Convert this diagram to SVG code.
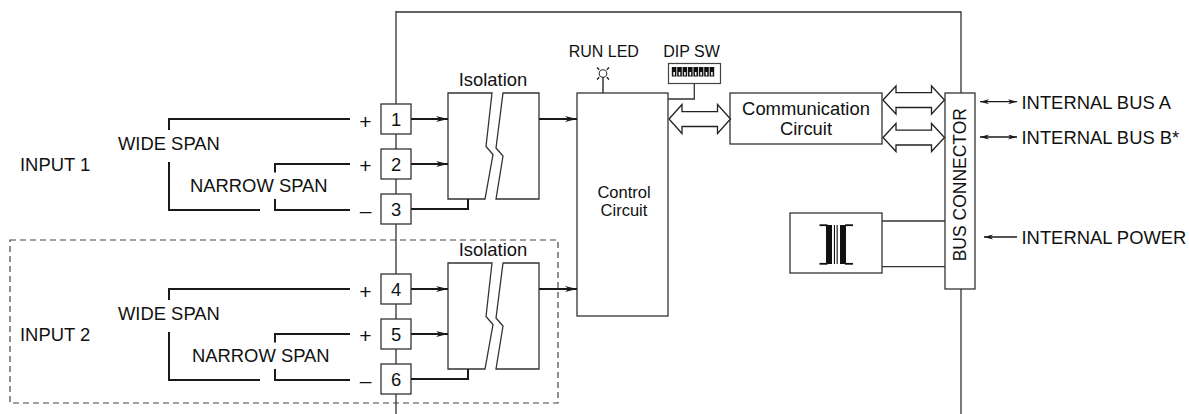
<svg xmlns="http://www.w3.org/2000/svg" width="1189" height="414" viewBox="0 0 1189 414">
<defs>
<style>
text{font-family:"Liberation Sans",Arial,Helvetica,sans-serif;fill:#111;}
.t18{font-size:18.4px;}
.t16{font-size:16px;}
.pm{font-size:21px;}
.mid{text-anchor:middle;}
.ln{fill:none;stroke:#333;stroke-width:1.3;}
.wr{fill:none;stroke:#1a1a1a;stroke-width:2;}
.bx{fill:#fff;stroke:#333;stroke-width:1.3;}
.ar{fill:none;stroke:#1a1a1a;stroke-width:1.8;marker-end:url(#ah);}
.hol{fill:#fff;stroke:#222;stroke-width:1.3;stroke-linejoin:miter;}
.sm{fill:none;stroke:#1a1a1a;stroke-width:1.3;}
</style>
<marker id="ah" markerUnits="userSpaceOnUse" markerWidth="13" markerHeight="7" refX="12" refY="3" orient="auto">
<path d="M0,0 L12,3 L0,6 L3.5,3 Z" fill="#1a1a1a"/>
</marker>
<marker id="sh" markerUnits="userSpaceOnUse" markerWidth="10" markerHeight="6" refX="9" refY="2.5" orient="auto-start-reverse">
<path d="M0,0 L9,2.5 L0,5 L2.5,2.5 Z" fill="#1a1a1a"/>
</marker>
</defs>
<rect width="1189" height="414" fill="#fff"/>

<g id="housing">
<path class="ln" d="M396,11 V414 M396,12 H961 V93 M961,289 V414"/>
<rect x="10" y="240" width="548" height="163" fill="none" stroke="#444" stroke-width="1.2" stroke-dasharray="6,4"/>
</g>

<g id="input1">
<text class="t18" x="20" y="170.7">INPUT 1</text>
<text class="t18" x="118" y="150">WIDE SPAN</text>
<text class="t18" x="190" y="192">NARROW SPAN</text>
<path class="wr" d="M169,130 V119 H350 M169,162 V210 H260 M275,172.5 V164 H350 M275,199 V210 H350"/>
<text class="pm mid" x="365.5" y="129">+</text>
<text class="pm mid" x="365.5" y="173">+</text>
<text class="pm mid" x="365.5" y="218">–</text>
</g>

<g id="input2">
<text class="t18" x="20" y="340.7">INPUT 2</text>
<text class="t18" x="118" y="320">WIDE SPAN</text>
<text class="t18" x="192" y="362">NARROW SPAN</text>
<path class="wr" d="M169,300 V289 H350 M169,332 V380 H260 M275,342.5 V334 H350 M275,369 V380 H350"/>
<text class="pm mid" x="365.5" y="299">+</text>
<text class="pm mid" x="365.5" y="343">+</text>
<text class="pm mid" x="365.5" y="388">–</text>
</g>

<g id="terminals">
<rect class="bx" x="381" y="104" width="30" height="30"/><text class="t18 mid" x="396" y="125.5">1</text>
<rect class="bx" x="381" y="149" width="30" height="30"/><text class="t18 mid" x="396" y="170.5">2</text>
<rect class="bx" x="381" y="194" width="30" height="30"/><text class="t18 mid" x="396" y="215.5">3</text>
<rect class="bx" x="381" y="274" width="30" height="30"/><text class="t18 mid" x="396" y="295.5">4</text>
<rect class="bx" x="381" y="319" width="30" height="30"/><text class="t18 mid" x="396" y="340.5">5</text>
<rect class="bx" x="381" y="364" width="30" height="30"/><text class="t18 mid" x="396" y="385.5">6</text>
</g>

<g id="isolation1">
<text class="t18 mid" x="493" y="86">Isolation</text>
<path class="bx" d="M448,93 H492 L486,146.5 L493,154.5 L485,199 H448 Z"/>
<path class="bx" d="M503,93 H539 V199 H496 L503,156 L496,148 Z"/>
</g>

<g id="isolation2">
<text class="t18 mid" x="493" y="256">Isolation</text>
<path class="bx" d="M448,263 H492 L486,316.5 L493,324.5 L485,369 H448 Z"/>
<path class="bx" d="M503,263 H539 V369 H496 L503,326 L496,318 Z"/>
</g>

<g id="control">
<rect class="bx" x="577" y="93" width="91" height="223"/>
<text class="mid" style="font-size:16.5px" x="624" y="197.5">Control</text>
<text class="mid" style="font-size:16.5px" x="624" y="216">Circuit</text>
</g>

<g id="runled">
<text class="t16 mid" x="603.8" y="57.3">RUN LED</text>
<circle cx="603" cy="73.5" r="3.8" fill="#fff" stroke="#333" stroke-width="1.1"/>
<path class="sm" d="M597,67.5 L599.2,69.7 M609,67.5 L606.8,69.7 M597,79.5 L599.2,77.3 M609,79.5 L606.8,77.3 M603,77.3 V93" stroke-width="1.1"/>
</g>

<g id="dipsw">
<text class="t16 mid" x="691.5" y="57.3">DIP SW</text>
<rect x="668.5" y="63.5" width="52" height="20" fill="#fff" stroke="#444" stroke-width="1.2"/>
<g fill="#111">
<rect x="671.8" y="67" width="4.6" height="9.5"/><rect x="677.2" y="67" width="4.6" height="9.5"/><rect x="682.6" y="67" width="4.6" height="9.5"/><rect x="688" y="67" width="4.6" height="9.5"/><rect x="693.4" y="67" width="4.6" height="9.5"/><rect x="698.8" y="67" width="4.6" height="9.5"/><rect x="704.2" y="67" width="4.6" height="9.5"/><rect x="709.6" y="67" width="4.6" height="9.5"/>
</g>
<g fill="#fff">
<rect x="673.3" y="72" width="1.6" height="3.5"/><rect x="678.7" y="72" width="1.6" height="3.5"/><rect x="684.1" y="72" width="1.6" height="3.5"/><rect x="689.5" y="72" width="1.6" height="3.5"/><rect x="694.9" y="72" width="1.6" height="3.5"/><rect x="700.3" y="72" width="1.6" height="3.5"/><rect x="705.7" y="72" width="1.6" height="3.5"/><rect x="711.1" y="72" width="1.6" height="3.5"/>
</g>
</g>

<g id="comm">
<rect class="bx" x="730" y="93" width="152" height="51"/>
<text class="t18 mid" x="806" y="115">Communication</text>
<text class="t18 mid" x="806" y="135">Circuit</text>
</g>

<g id="power">
<rect class="bx" x="790" y="213" width="92" height="60"/>
<g fill="#111">
<rect x="826" y="225" width="6" height="39"/>
<rect x="840" y="225" width="6" height="39"/>
<rect x="819.5" y="224.3" width="8" height="1.8"/>
<rect x="819.5" y="262.9" width="8" height="1.8"/>
<rect x="845" y="224.3" width="8" height="1.8"/>
<rect x="845" y="262.9" width="8" height="1.8"/>
<rect x="833.9" y="225" width="1.1" height="39"/>
<rect x="836.6" y="225" width="1.1" height="39"/>
</g>
</g>

<g id="busconn">
<rect class="bx" x="945" y="93" width="30" height="196"/>
<text style="font-size:17.5px" class="mid" transform="translate(965.5,184.7) rotate(-90)">BUS CONNECTOR</text>
</g>

<g id="extlabels">
<text class="t18" x="1021.5" y="109">INTERNAL BUS A</text>
<text class="t18" x="1021.5" y="144">INTERNAL BUS B*</text>
<text class="t18" x="1021.5" y="244">INTERNAL POWER</text>
</g>

<g id="connectors">
<path class="ar" d="M411,119 H448"/>
<path class="ar" d="M411,164 H448"/>
<path class="wr" d="M411,209 H468 V199"/>
<path class="ar" d="M411,289 H448"/>
<path class="ar" d="M411,334 H448"/>
<path class="wr" d="M411,379 H468 V369"/>
<path class="ar" d="M539,119 H577"/>
<path class="ar" d="M539,289 H577"/>
<path class="ln" d="M668,99 H694.3 V83.5"/>
<polygon class="hol" points="669,119 682,104.5 682,111.7 717.5,111.7 717.5,104.5 730.5,119 717.5,133.5 717.5,126.5 682,126.5 682,133.5"/>
<polygon class="hol" points="883,100 896,86 896,92.7 931.5,92.7 931.5,86 944.5,100 931.5,114 931.5,107.5 896,107.5 896,114"/>
<polygon class="hol" points="883,137.5 896,123.5 896,130.2 931.5,130.2 931.5,123.5 944.5,137.5 931.5,151.5 931.5,145 896,145 896,151.5"/>
<path class="ln" d="M882,221 H945 M882,266.7 H945"/>
<path class="sm" d="M980,101.7 H1017" marker-start="url(#sh)" marker-end="url(#sh)"/>
<path class="sm" d="M980,137 H1017" marker-start="url(#sh)" marker-end="url(#sh)"/>
<path class="sm" d="M1017,237 H984" marker-end="url(#sh)"/>
</g>
</svg>
